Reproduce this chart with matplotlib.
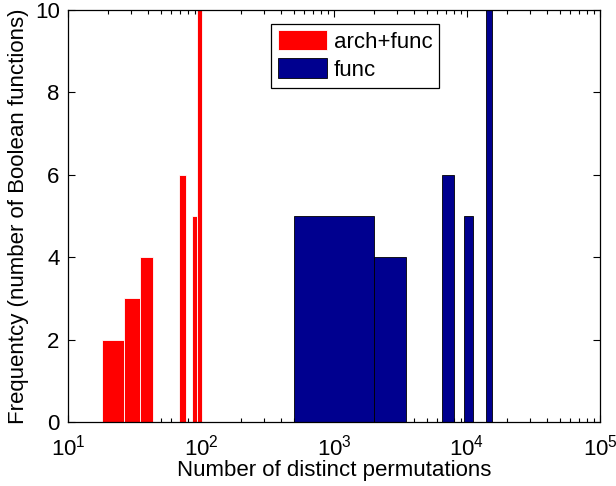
import numpy as np
import matplotlib
matplotlib.use("Agg")
import matplotlib.pyplot as plt
from matplotlib.ticker import LogLocator, FixedLocator

plt.rcParams['font.family'] = ['Liberation Sans', 'DejaVu Sans']
plt.rcParams['mathtext.fontset'] = 'custom'
plt.rcParams['mathtext.rm'] = 'Liberation Sans'
plt.rcParams['mathtext.it'] = 'Liberation Sans:italic'

# arch+func histogram (10 linear bins)
red_edges = [18.0, 26.4, 34.8, 43.2, 51.6, 60.0, 68.4, 76.8, 85.2, 93.6, 102.0]
red_counts = [2, 3, 4, 0, 0, 0, 6, 0, 5, 10]
# func histogram (10 linear bins)
blue_edges = [500, 2000, 3500, 5000, 6500, 8000, 9500, 11000, 12500, 14000, 15500]
blue_counts = [5, 4, 0, 0, 6, 0, 5, 0, 0, 10]

labels = ['arch+func', 'func']

fig = plt.figure(figsize=(6.16, 4.86), dpi=100)
ax = fig.add_axes([68/616, 1-422/486, (600-68)/616, (422-10)/486])

re = np.array(red_edges)
be = np.array(blue_edges)
ax.bar(re[:-1], red_counts, width=np.diff(re), align='edge', color='#FF0000',
       edgecolor='white', linewidth=0.6, label=labels[0], zorder=2)
ax.bar(be[:-1], blue_counts, width=np.diff(be), align='edge', color='#00008F',
       edgecolor='black', linewidth=0.6, label=labels[1], zorder=2)

ax.set_xscale('log')
ax.set_xlim(10, 1e5)
ax.set_ylim(0, 10)
ax.set_yticks([0, 2, 4, 6, 8, 10])
ax.xaxis.set_major_locator(FixedLocator([1e1, 1e2, 1e3, 1e4, 1e5]))
ax.xaxis.set_minor_locator(LogLocator(base=10, subs=np.arange(2, 10)))
ax.set_xticklabels([r'$10^{1}$', r'$10^{2}$', r'$10^{3}$', r'$10^{4}$', r'$10^{5}$'])
ax.tick_params(which='both', direction='in', top=True, right=True, labelsize=16)
ax.tick_params(axis='x', pad=9)
ax.tick_params(axis='y', pad=6)
ax.tick_params(which='major', length=5, width=0.8)
ax.tick_params(which='minor', length=3, width=0.8)
for s in ax.spines.values():
    s.set_linewidth(0.9)
    s.set_zorder(3)

ax.set_xlabel('Number of distinct permutations', fontsize=16, labelpad=0)
ax.set_ylabel('Frequentcy (number of Boolean functions)', fontsize=16, labelpad=4)

leg = ax.legend(loc='upper center', bbox_to_anchor=(0.54, 0.967), fontsize=16,
                frameon=True, fancybox=False, edgecolor='black', framealpha=1,
                handlelength=2.2, handleheight=1.0, borderpad=0.3, labelspacing=0.25,
                handletextpad=0.3, borderaxespad=0)
leg.get_frame().set_linewidth(0.9)

fig.savefig('out.png', dpi=100)
